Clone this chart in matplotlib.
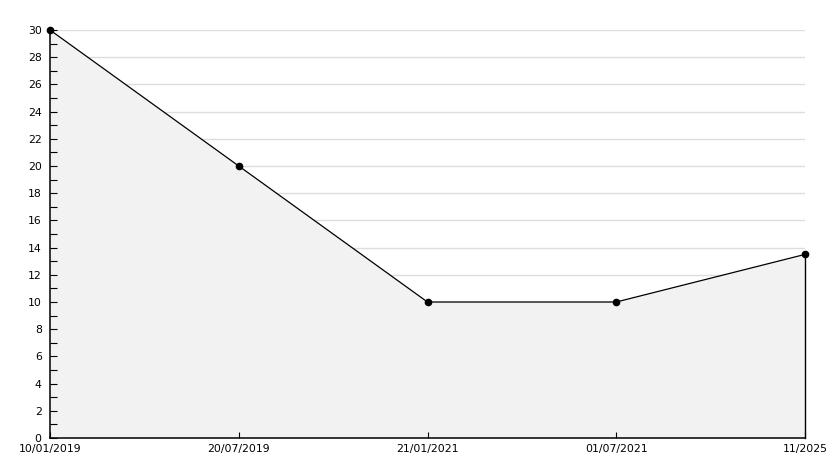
import matplotlib
matplotlib.use("Agg")
import matplotlib.pyplot as plt
from matplotlib.ticker import MultipleLocator

dates = ["10/01/2019", "20/07/2019", "21/01/2021", "01/07/2021", "11/2025"]
values = [30, 20, 10, 10, 13.5]
grid_levels = list(range(2, 31, 2))

fig = plt.figure(figsize=(8.34, 4.68), dpi=100)
ax = fig.add_axes([50 / 834, 30 / 468, 755 / 834, 408 / 468])

x = list(range(len(dates)))

# grid lines sit behind the filled area
ax.hlines(grid_levels, x[0], x[-1], color="#dddddd", lw=1, zorder=0)
ax.fill_between(x, 0, values, color="#f2f2f2", lw=0, zorder=1)
ax.plot(x, values, color="black", lw=0.9, marker="o", markersize=4.5,
        zorder=3, clip_on=False)
# right edge of the filled area
ax.plot([x[-1], x[-1]], [0, values[-1]], color="black", lw=1, zorder=3,
        clip_on=False)

ax.set_xlim(x[0], x[-1])
ax.set_ylim(0, 30)
ax.set_xticks(x)
ax.set_xticklabels(dates)
ax.yaxis.set_major_locator(MultipleLocator(2))
ax.yaxis.set_minor_locator(MultipleLocator(1))

for s in ["top", "right"]:
    ax.spines[s].set_visible(False)
for s in ["left", "bottom"]:
    ax.spines[s].set_linewidth(1.1)

ax.tick_params(axis="y", which="both", direction="in", length=5, width=0.8,
               labelsize=7.8, pad=6)
ax.tick_params(axis="x", direction="in", length=4, width=0.8, labelsize=7.8, pad=4)

fig.savefig("out.png", dpi=100)
